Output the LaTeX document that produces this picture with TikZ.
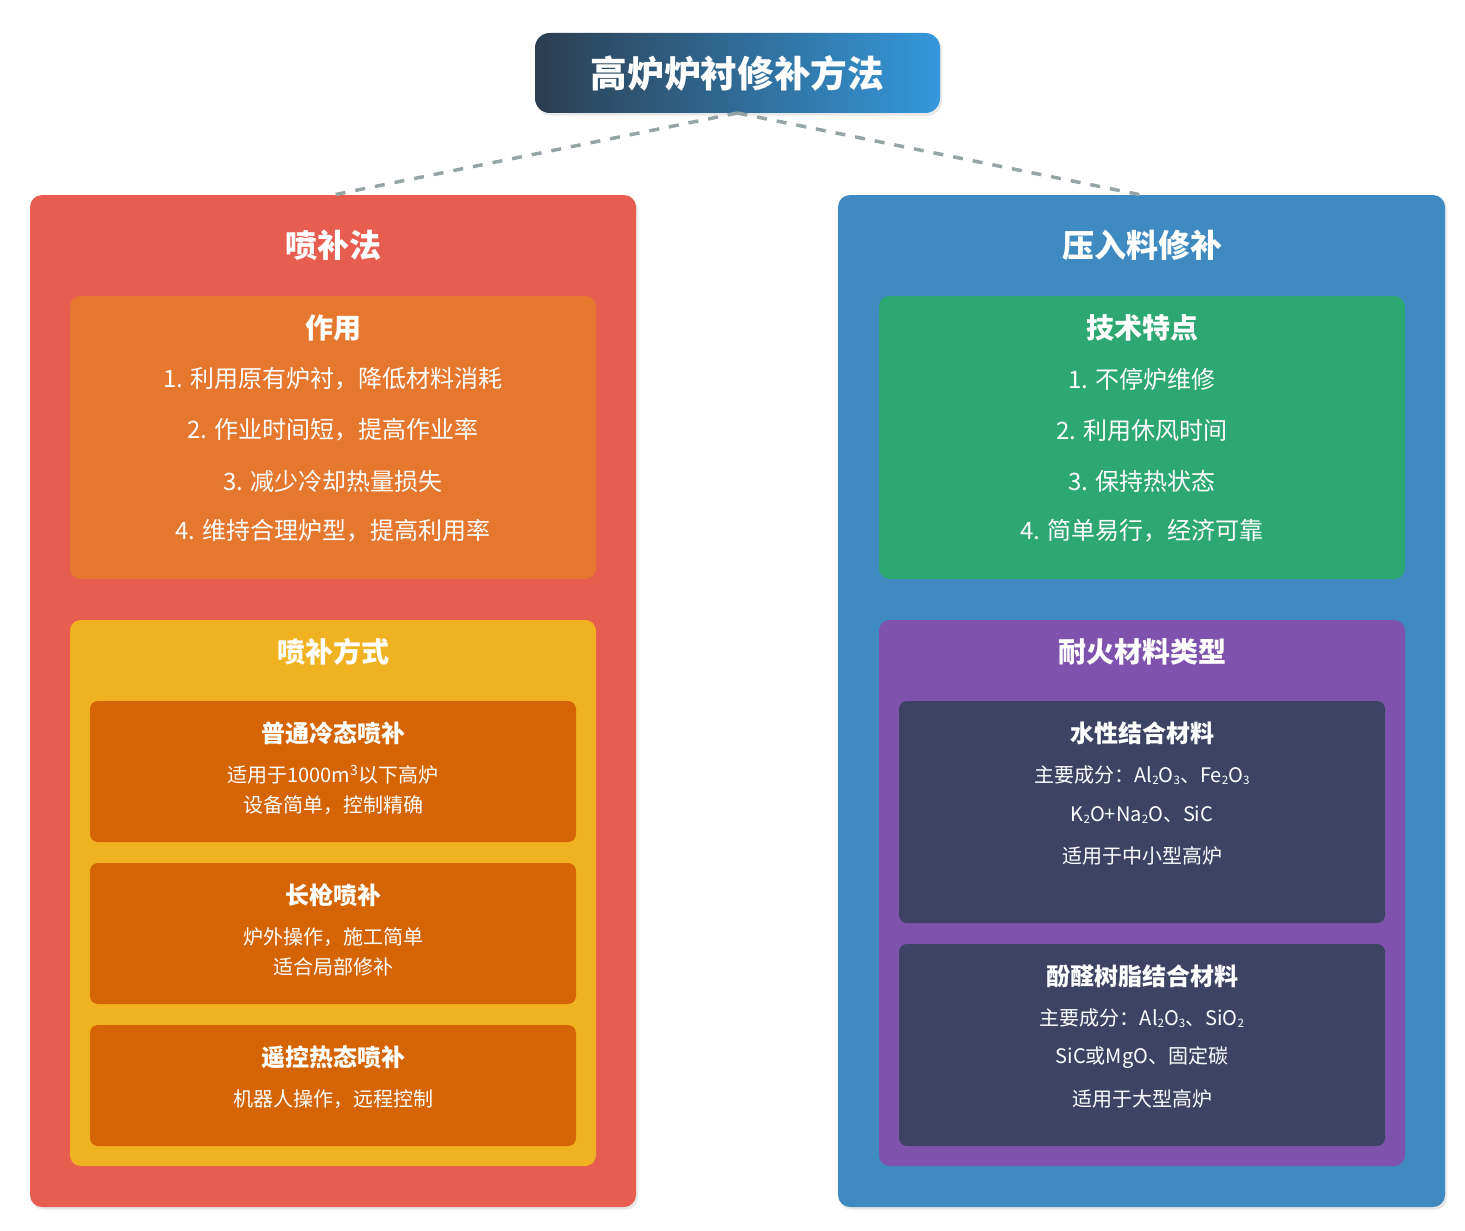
\documentclass[tikz,border=0pt]{standalone}
\usepackage{fontspec}
\setmainfont{Noto Sans CJK SC}
\usepackage{graphicx}
\usetikzlibrary{shadows}
\definecolor{ttlL}{HTML}{2C3E50}
\definecolor{ttlR}{HTML}{3498DB}
\definecolor{redp}{HTML}{E75E50}
\definecolor{bluep}{HTML}{3E8AC1}
\definecolor{orng}{HTML}{E6772E}
\definecolor{yell}{HTML}{F0B220}
\definecolor{dorng}{HTML}{D56404}
\definecolor{grn}{HTML}{2EA872}
\definecolor{purp}{HTML}{7F53AD}
\definecolor{navy}{HTML}{3C4363}
\definecolor{dash}{HTML}{95A5A6}
\newcommand\sbs[1]{\raisebox{-0.2ex}{\scalebox{0.58}{#1}}}
\newcommand\boxat[6]{\node[#6, minimum width={(#4-#2)*0.75pt}, minimum height={(#5-#3)*0.75pt}] (#1) at ({(#2+#4)/2},{(#3+#5)/2}) {};}
\begin{document}
\begin{tikzpicture}[x=0.75pt,y=-0.75pt,
  rbox/.style={rectangle, rounded corners=9pt, inner sep=0pt, outer sep=0pt},
  shad/.style={drop shadow={opacity=0.18, shadow xshift=1.5pt, shadow yshift=-2pt}},
  panel/.style={rbox, shad},
  ibox/.style={rbox, rounded corners=8pt},
  sbox/.style={rbox, rounded corners=6pt},
  conn/.style={draw=dash, line width=2.6pt, dash pattern=on 7.5pt off 7.5pt},
  ttltext/.style={text=white, font=\fontsize{27.5}{32}\selectfont\bfseries, inner sep=0pt},
  phdr/.style={text=white, font=\fontsize{24}{28}\selectfont\bfseries, inner sep=0pt},
  bhdr/.style={text=white, font=\fontsize{21}{25}\selectfont\bfseries, inner sep=0pt},
  item/.style={text=white, font=\fontsize{18}{22}\selectfont, inner sep=0pt},
  shdr/.style={text=white, font=\fontsize{18}{22}\selectfont\bfseries, inner sep=0pt},
  stxt/.style={text=white, font=\fontsize{15}{18}\selectfont, inner sep=0pt}]
\useasboundingbox (0,0) rectangle (1465,1231);
% title
\node[rbox, rounded corners=11pt, left color=ttlL, right color=ttlR, shad,
  minimum width={405*0.75pt}, minimum height={80*0.75pt}] (title) at (737.5,73) {};
% panels
\boxat{left}{30}{195}{636}{1207}{panel, fill=redp}
\boxat{right}{838}{195}{1445}{1207}{panel, fill=bluep}
\draw[conn] (title.south) -- (left.north);
\draw[conn] (title.south) -- (right.north);
\node[ttltext] (titletext) at (737.5,73) {高炉炉衬修补方法};
% left
\node[phdr] (lh) at (333,245) {喷补法};
\boxat{zy}{70}{296}{596}{579}{ibox, fill=orng}
\node[bhdr] (zyh) at (333,328) {作用};
\node[item] (zy1) at (333,379) {1. 利用原有炉衬，降低材料消耗};
\node[item] (zy2) at (333,430) {2. 作业时间短，提高作业率};
\node[item] (zy3) at (333,481) {3. 减少冷却热量损失};
\node[item] (zy4) at (333,531) {4. 维持合理炉型，提高利用率};
\boxat{fs}{70}{620}{596}{1166}{ibox, fill=yell}
\node[bhdr] (fsh) at (333,652) {喷补方式};
\boxat{s1}{90}{701}{576}{842}{sbox, fill=dorng}
\node[shdr] (s1h) at (333,733) {普通冷态喷补};
\node[stxt] (s1a) at (333,775) {适用于1000m\textsuperscript{3}以下高炉};
\node[stxt] (s1b) at (333,805) {设备简单，控制精确};
\boxat{s2}{90}{863}{576}{1004}{sbox, fill=dorng}
\node[shdr] (s2h) at (333,895) {长枪喷补};
\node[stxt] (s2a) at (333,937) {炉外操作，施工简单};
\node[stxt] (s2b) at (333,967) {适合局部修补};
\boxat{s3}{90}{1025}{576}{1146}{sbox, fill=dorng}
\node[shdr] (s3h) at (333,1057) {遥控热态喷补};
\node[stxt] (s3a) at (333,1099) {机器人操作，远程控制};
% right
\node[phdr] (rh) at (1142,245) {压入料修补};
\boxat{js}{879}{296}{1405}{579}{ibox, fill=grn}
\node[bhdr] (jsh) at (1142,328) {技术特点};
\node[item] (js1) at (1142,379) {1. 不停炉维修};
\node[item] (js2) at (1142,430) {2. 利用休风时间};
\node[item] (js3) at (1142,481) {3. 保持热状态};
\node[item] (js4) at (1142,531) {4. 简单易行，经济可靠};
\boxat{nh}{879}{620}{1405}{1166}{ibox, fill=purp}
\node[bhdr] (nhh) at (1142,652) {耐火材料类型};
\boxat{m1}{899}{701}{1385}{923}{sbox, fill=navy}
\node[shdr] (m1h) at (1142,733) {水性结合材料};
\node[stxt] (m1a) at (1142,775) {主要成分：Al\sbs{2}O\sbs{3}、Fe\sbs{2}O\sbs{3}};
\node[stxt] (m1b) at (1142,815) {K\sbs{2}O+Na\sbs{2}O、SiC};
\node[stxt] (m1c) at (1142,856) {适用于中小型高炉};
\boxat{m2}{899}{944}{1385}{1146}{sbox, fill=navy}
\node[shdr] (m2h) at (1142,976) {酚醛树脂结合材料};
\node[stxt] (m2a) at (1142,1018) {主要成分：Al\sbs{2}O\sbs{3}、SiO\sbs{2}};
\node[stxt] (m2b) at (1142,1058) {SiC或MgO、固定碳};
\node[stxt] (m2c) at (1142,1099) {适用于大型高炉};
\end{tikzpicture}
\end{document}
